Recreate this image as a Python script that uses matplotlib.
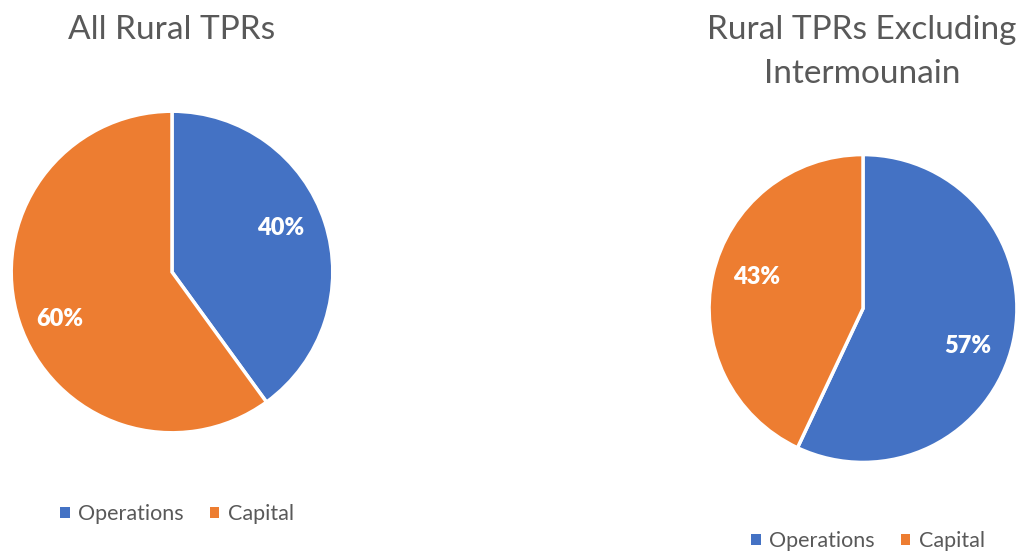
import matplotlib
matplotlib.use("Agg")
import matplotlib.pyplot as plt
from matplotlib.patches import Patch

plt.rcParams['font.family'] = ['Lato', 'DejaVu Sans']

categories = ["Operations", "Capital"]
left_values = [40, 60]
right_values = [57, 43]
left_title = "All Rural TPRs"
right_title = "Rural TPRs Excluding\nIntermounain"
colors = ["#4472C4", "#ED7D31"]
text_gray = "#595959"

# label placement (fraction of radius), per slice, as Excel positions them
left_label_pos = [(0.674, 0.271), (-0.701, -0.293)]
right_label_pos = [(0.678, -0.245), (-0.694, 0.207)]

W, H = 1021, 554
fig = plt.figure(figsize=(W / 100, H / 100), dpi=100)

def add_pie(cx, cy, r, values, label_pos):
    ax = fig.add_axes([(cx - r) / W, 1 - (cy + r) / H, 2 * r / W, 2 * r / H])
    wedges, texts, autotexts = ax.pie(
        values, colors=colors, startangle=90, counterclock=False,
        autopct=lambda p: f"{p:.0f}%", pctdistance=0.74,
        wedgeprops=dict(edgecolor="white", linewidth=2.5),
        textprops=dict(color="white", fontsize=17, fontweight="heavy"),
        radius=1.0)
    for t, pos in zip(autotexts, label_pos):
        t.set_position(pos)
    ax.set_xlim(-1.02, 1.02)
    ax.set_ylim(-1.02, 1.02)
    ax.set_aspect("equal")
    ax.axis("off")
    return ax

add_pie(172, 272, 164, left_values, left_label_pos)
add_pie(863, 308.5, 157, right_values, right_label_pos)

fig.text(172 / W, 1 - 30 / H, left_title, ha="center", va="center",
         fontsize=24, color=text_gray)
fig.text(862 / W, 1 - 52 / H, right_title, ha="center", va="center",
         fontsize=24, color=text_gray, linespacing=1.55)

handles = [Patch(facecolor=c, edgecolor="none") for c in colors]
for x, y in [(177, 514), (868, 541)]:
    fig.legend(handles, categories, loc="center", bbox_to_anchor=(x / W, 1 - y / H),
               ncol=2, frameon=False, fontsize=15.5, labelcolor=text_gray,
               handlelength=0.45, handleheight=0.45, handletextpad=0.4,
               columnspacing=1.2)

fig.savefig("out.png", dpi=100)
